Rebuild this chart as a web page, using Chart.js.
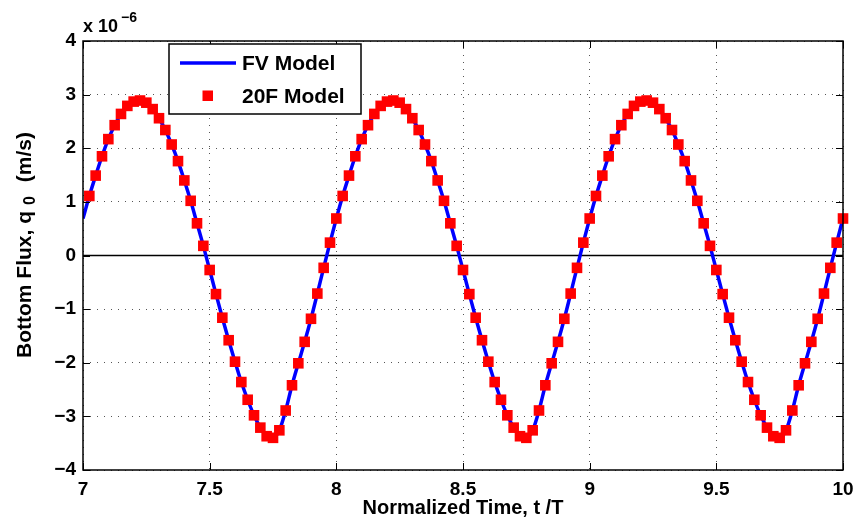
<!DOCTYPE html>
<html>
<head>
<meta charset="utf-8">
<title>Bottom flux</title>
<script src="https://cdn.jsdelivr.net/npm/chart.js@4.4.1/dist/chart.umd.min.js"></script>
<style>
  html, body { margin: 0; padding: 0; background: #fff; }
  #wrap { width: 854px; height: 526px; position: relative; }
</style>
</head>
<body>
<div id="wrap"><canvas id="fluxChart"></canvas></div>
<script>
/* Bottom flux q0 vs normalized time: FV model (line) and 20F model (squares).
   Values, in units of 1e-6 m/s. */

const tStart = 7;
const tStep = 0.025;

// FV model, t = 7.000 ... 10.000 every 0.025
const fluxFV = [
  0.69, 1.11, 1.49, 1.85, 2.17, 2.43, 2.64, 2.79, 2.87, 2.89,
  2.85, 2.73, 2.56, 2.34, 2.07, 1.76, 1.40, 1.02, 0.60, 0.18,
  -0.27, -0.72, -1.16, -1.58, -1.98, -2.36, -2.69, -2.98, -3.21, -3.37,
  -3.40, -3.26, -2.89, -2.42, -2.01, -1.61, -1.18, -0.71, -0.23, 0.24,
  0.69, 1.11, 1.49, 1.85, 2.17, 2.43, 2.64, 2.79, 2.87, 2.89,
  2.85, 2.73, 2.56, 2.34, 2.07, 1.76, 1.40, 1.02, 0.60, 0.18,
  -0.27, -0.72, -1.16, -1.58, -1.98, -2.36, -2.69, -2.98, -3.21, -3.37,
  -3.40, -3.26, -2.89, -2.42, -2.01, -1.61, -1.18, -0.71, -0.23, 0.24,
  0.69, 1.11, 1.49, 1.85, 2.17, 2.43, 2.64, 2.79, 2.87, 2.89,
  2.85, 2.73, 2.56, 2.34, 2.07, 1.76, 1.40, 1.02, 0.60, 0.18,
  -0.27, -0.72, -1.16, -1.58, -1.98, -2.36, -2.69, -2.98, -3.21, -3.37,
  -3.40, -3.26, -2.89, -2.42, -2.01, -1.61, -1.18, -0.71, -0.23, 0.24,
  0.69
];

// 20F model sits on the FV curve; first marker at t = 7.025
const flux20F = fluxFV.slice(1);

const xTicks = [7, 7.5, 8, 8.5, 9, 9.5, 10];
const yTicks = [-4, -3, -2, -1, 0, 1, 2, 3, 4];
const zeroLine = [0, 0];

const seriesNames = ["FV Model", "20F Model"];
const xTitle = "Normalized Time, t /T";
const yTitleParts = ["Bottom Flux, q", "0", " (m/s)"];

const FONT = '"Liberation Sans", Arial, Helvetica, sans-serif';
const BLUE = "#0000ff";
const RED = "#ff0000";

const fvPoints = fluxFV.map((v, i) => ({ x: +(tStart + i * tStep).toFixed(3), y: v }));
const f20Points = flux20F.map((v, i) => ({ x: +(tStart + (i + 1) * tStep).toFixed(3), y: v }));
const zeroPoints = [{ x: xTicks[0], y: zeroLine[0] }, { x: xTicks[xTicks.length - 1], y: zeroLine[1] }];

const fmtTick = (v) => (v < 0 ? "\u2212" + Math.abs(v) : String(v));

/* ---- box, inward tick marks, exponent label, y title, legend ---- */
const matlabFrame = {
  id: "matlabFrame",
  afterDraw(chart) {
    const { ctx, chartArea: a, scales } = chart;
    const x = scales.x, y = scales.y;
    ctx.save();

    // inward ticks on all four sides
    ctx.strokeStyle = "#000";
    ctx.lineWidth = 1;
    const tl = 7;
    ctx.beginPath();
    for (const t of xTicks) {
      const px = Math.round(x.getPixelForValue(t)) + 0.5;
      ctx.moveTo(px, a.bottom); ctx.lineTo(px, a.bottom - tl);
      ctx.moveTo(px, a.top); ctx.lineTo(px, a.top + tl);
    }
    for (const t of yTicks) {
      const py = Math.round(y.getPixelForValue(t)) + 0.5;
      ctx.moveTo(a.left, py); ctx.lineTo(a.left + tl, py);
      ctx.moveTo(a.right, py); ctx.lineTo(a.right - tl, py);
    }
    ctx.stroke();

    // axes box
    ctx.lineWidth = 1.5;
    ctx.strokeRect(a.left, a.top, a.right - a.left, a.bottom - a.top);

    // exponent label
    ctx.fillStyle = "#000";
    ctx.textAlign = "left";
    ctx.textBaseline = "alphabetic";
    ctx.font = `bold 18px ${FONT}`;
    ctx.fillText("x 10", a.left, 32);
    const w10 = ctx.measureText("x 10").width;
    ctx.font = `bold 14px ${FONT}`;
    ctx.fillText("\u22126", a.left + w10 + 3, 22);

    // y title with subscript
    ctx.font = `bold 21px ${FONT}`;
    const w0 = ctx.measureText(yTitleParts[0]).width;
    const w2 = ctx.measureText(yTitleParts[2]).width;
    ctx.font = `bold 16px ${FONT}`;
    const w1 = ctx.measureText(yTitleParts[1]).width;
    const gapA = 6, gapB = 8;
    const total = w0 + gapA + w1 + gapB + w2;
    ctx.translate(25, 245);
    ctx.rotate(-Math.PI / 2);
    ctx.textBaseline = "middle";
    let cx = -total / 2;
    ctx.font = `bold 21px ${FONT}`;
    ctx.fillText(yTitleParts[0], cx, 0);
    cx += w0 + gapA;
    ctx.font = `bold 16px ${FONT}`;
    ctx.fillText(yTitleParts[1], cx, 6);
    cx += w1 + gapB;
    ctx.font = `bold 21px ${FONT}`;
    ctx.fillText(yTitleParts[2], cx, 0);
    ctx.setTransform(1, 0, 0, 1, 0, 0);

    // legend
    const lx = 169, ly = 44, lw = 192, lh = 70;
    ctx.fillStyle = "#fff";
    ctx.fillRect(lx, ly, lw, lh);
    ctx.lineWidth = 1.5;
    ctx.strokeStyle = "#000";
    ctx.strokeRect(lx, ly, lw, lh);

    ctx.strokeStyle = BLUE;
    ctx.lineWidth = 3.5;
    ctx.beginPath();
    ctx.moveTo(180, 63); ctx.lineTo(236, 63);
    ctx.stroke();

    ctx.fillStyle = RED;
    ctx.fillRect(202.5, 90.5, 10.5, 10.5);

    ctx.fillStyle = "#000";
    ctx.font = `bold 21px ${FONT}`;
    ctx.textAlign = "left";
    ctx.textBaseline = "middle";
    ctx.fillText(seriesNames[0], 242, 64);
    ctx.fillText(seriesNames[1], 242, 97);

    ctx.restore();
  }
};
Chart.register(matlabFrame);

const ctx = document.getElementById("fluxChart").getContext("2d");
new Chart(ctx, {
  type: "line",
  data: {
    datasets: [
      {
        label: "zero",
        data: zeroPoints,
        borderColor: "#000",
        borderWidth: 1.5,
        pointRadius: 0,
        order: 3
      },
      {
        label: seriesNames[0],
        data: fvPoints,
        borderColor: BLUE,
        borderWidth: 3.5,
        pointRadius: 0,
        cubicInterpolationMode: "monotone",
        order: 2
      },
      {
        label: seriesNames[1],
        data: f20Points,
        showLine: false,
        pointStyle: "rect",
        pointRadius: 7.5,
        pointBackgroundColor: RED,
        pointBorderColor: RED,
        pointBorderWidth: 0,
        clip: false,
        order: 1
      }
    ]
  },
  options: {
    responsive: true,
    maintainAspectRatio: false,
    animation: false,
    layout: { padding: { top: 41, right: 11, left: 0, bottom: 0 } },
    scales: {
      x: {
        type: "linear",
        min: 7,
        max: 10,
        afterFit: (s) => { s.height = 56; s.paddingLeft = 0; s.paddingRight = 0; },
        afterBuildTicks: (s) => { s.ticks = xTicks.map(v => ({ value: v })); },
        ticks: {
          color: "#000",
          padding: 8,
          font: { family: FONT, size: 19, weight: "bold" },
          callback: (v) => String(v)
        },
        grid: { color: "#555", lineWidth: 1, drawTicks: false },
        border: { display: false, dash: [1, 6] },
        title: {
          display: true,
          text: xTitle,
          color: "#000",
          padding: { top: 0, bottom: 6 },
          font: { family: FONT, size: 20, weight: "bold" }
        }
      },
      y: {
        type: "linear",
        min: -4,
        max: 4,
        afterFit: (s) => { s.width = 83; s.paddingTop = 0; s.paddingBottom = 0; },
        afterBuildTicks: (s) => { s.ticks = yTicks.map(v => ({ value: v })); },
        ticks: {
          color: "#000",
          padding: 7,
          font: { family: FONT, size: 19, weight: "bold" },
          callback: (v) => fmtTick(v)
        },
        grid: { color: "#555", lineWidth: 1, drawTicks: false },
        border: { display: false, dash: [1, 6] }
      }
    },
    plugins: {
      legend: { display: false },
      tooltip: { enabled: false }
    }
  }
});
</script>
</body>
</html>
